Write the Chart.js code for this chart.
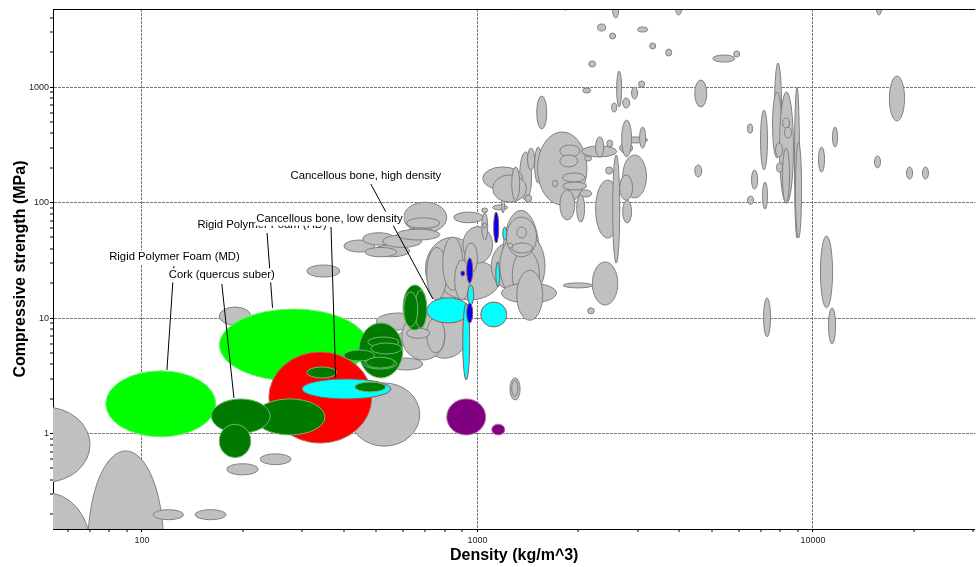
<!DOCTYPE html>
<html>
<head>
<meta charset="utf-8">
<script src="https://cdn.jsdelivr.net/npm/chart.js@4.4.0/dist/chart.umd.min.js"></script>
<style>
  html, body { margin: 0; padding: 0; background: #fff; }
  #wrap { width: 976px; height: 567px; }
</style>
</head>
<body>
<div id="wrap"><canvas id="ashby" width="976" height="567"></canvas></div>
<script>
// each material: [density low, density high, strength low, strength high]
// density in kg/m^3, compressive strength in MPa
var greyRanges = [
  [38, 70, 0.38, 1.7], [38, 70, 0.039, 0.31], [69, 116, 0.017, 0.71],
  [108, 133, 0.18, 0.22], [144, 178, 0.18, 0.22], [179, 222, 0.44, 0.55], [225, 278, 0.54, 0.67],
  [170, 211, 8.7, 12.5], [414, 673, 0.78, 2.75], [310, 389, 22.7, 28.9],
  [700, 1010, 14.4, 50], [770, 1165, 14.4, 32], [905, 1110, 30, 62], [1100, 1400, 18, 45],
  [603, 810, 55, 101], [615, 772, 60, 74], [620, 736, 53.6, 60.4], [850, 1040, 67, 83],
  [400, 494, 37.4, 47.5], [455, 567, 43, 55], [488, 628, 34, 43], [522, 682, 41, 52.5],
  [575, 772, 47.5, 59], [462, 575, 34, 41],
  [706, 810, 14.4, 41], [788, 904, 17.5, 50.5], [916, 1000, 24.6, 44.8], [855, 948, 14.4, 32],
  [1030, 1073, 47.5, 81.5], [1030, 1073, 82, 90],
  [1190, 1530, 14.4, 86], [1165, 1590, 14.4, 55.7], [1270, 1530, 14.4, 39],
  [1180, 1720, 13.5, 20.2], [1310, 1565, 9.6, 26], [2200, 2620, 13, 30.7],
  [1800, 2200, 18.3, 20.2], [2130, 2230, 10.9, 12.3],
  [1250, 1340, 1.96, 3.04], [1265, 1320, 2.1, 2.9],
  [673, 948, 4.5, 14.4], [500, 673, 7.9, 11.1], [575, 706, 5.6, 7.9], [595, 800, 4.35, 11.1],
  [706, 799, 5, 10.2], [548, 687, 3.56, 4.52], [615, 721, 6.7, 8.2],
  [1220, 1500, 34, 75], [1310, 1400, 49.5, 61.6], [1265, 1460, 36.7, 44.8], [1230, 1275, 40.5, 44.8],
  [1110, 1230, 86.5, 95.5], [1180, 1205, 81.5, 124], [1037, 1065, 60.4, 66.7],
  [1336, 1450, 105, 275], [1410, 1480, 192, 297], [1480, 1555, 148, 303], [1510, 2120, 95.5, 410],
  [1037, 1365, 129, 204], [1110, 1400, 101, 174], [1265, 1336, 105, 204], [1385, 1450, 101, 117],
  [1760, 2020, 249, 316], [1760, 1990, 204, 259], [1795, 2090, 151, 181], [1795, 2117, 129, 151],
  [1676, 1734, 137, 157], [2017, 2190, 112, 129], [1976, 2087, 68, 117], [1760, 1950, 71, 129],
  [2045, 2600, 249, 310], [2250, 2380, 249, 371], [2430, 2530, 303, 349], [2087, 2190, 230, 254],
  [2410, 2530, 177, 204], [2250, 2655, 49.5, 157], [2530, 2655, 30, 259],
  [2655, 2900, 269, 329], [2710, 3216, 329, 371], [2690, 2880, 249, 520], [3043, 3172, 297, 452],
  [2710, 3190, 110, 259], [2655, 2900, 105, 174], [2710, 2880, 66.7, 105],
  [2600, 2690, 674, 1380], [2512, 2600, 610, 730], [2710, 2845, 661, 806],
  [2880, 3000, 790, 1004], [3022, 3150, 1004, 1132], [1502, 1609, 435, 839],
  [2280, 2410, 3067, 3524], [2477, 2582, 2615, 2946], [3002, 3216, 3006, 3320],
  [3261, 3398, 2141, 2414], [3640, 3793, 1862, 2141], [2146, 2250, 1496, 1686], [2060, 2175, 891, 984],
  [1795, 1865, 4660, 5690], [2530, 2636, 3975, 5360], [3900, 4060, 4220, 5250], [15470, 16010, 4220, 5400],
  [5030, 5850, 1650, 1900], [5806, 6050, 1826, 2058], [4444, 4826, 674, 1154],
  [7683, 8060, 269, 1620], [7578, 8060, 244, 909], [7950, 8750, 99, 909],
  [8810, 9120, 49.5, 1004], [8870, 9250, 49.5, 335],
  [6980, 7320, 192, 635], [6380, 6610, 401, 480], [4444, 4663, 167, 212], [6560, 6840, 131, 192],
  [7077, 7322, 88, 151], [6383, 6653, 97, 114], [8118, 8515, 443, 541], [8225, 8630, 363, 452],
  [7737, 8118, 249, 329], [7790, 8118, 184, 221], [8118, 8515, 99, 297],
  [10390, 10830, 184, 303], [16900, 18750, 510, 1250], [11440, 11840, 303, 452],
  [15260, 15900, 200, 254], [19010, 19820, 160, 204], [21210, 22100, 160, 204],
  [10530, 11440, 12.3, 51.5], [7126, 7475, 6.9, 15], [11130, 11680, 6, 12.3]
];
var lightGreenRanges = [[170, 471, 2.86, 12], [78, 166, 0.94, 3.5]];
var redRanges = [[239, 484, 0.83, 5.1]];
var darkGreenRanges = [
  [217, 351, 0.975, 2.0], [161, 241, 1.01, 2.0], [170, 211, 0.62, 1.21], [310, 381, 3.04, 3.78],
  [443, 599, 3.04, 9.1], [400, 494, 4.26, 5.31],
  [471, 583, 5.63, 6.87], [481, 595, 4.9, 6.1], [458, 575, 3.63, 4.52], [465, 567, 3.7, 4.6],
  [600, 706, 7.9, 19.4], [650, 706, 8.2, 17.5], [603, 664, 8.4, 16.9]
];
var cyanRanges = [
  [300, 552, 2.0, 2.98], [706, 948, 9.1, 15], [1023, 1223, 8.4, 13.8], [904, 948, 2.92, 13.5],
  [935, 975, 13, 19.4], [1134, 1165, 18.6, 30.7], [1190, 1223, 47.5, 61.6]
];
var darkGreenTopRanges = [[431, 533, 2.30, 2.80]];
var blueRanges = [[1118, 1157, 44.8, 83], [929, 968, 20.2, 33.2], [892, 916, 23.2, 25.6], [929, 968, 9.1, 13.5]];
var purpleRanges = [[810, 1058, 0.975, 2.0], [1103, 1206, 0.975, 1.21]];

// labelled materials: text position and leader line (density, strength)
var labelNames = ['Rigid Polymer Foam (MD)', 'Cork (quercus suber)', 'Rigid Polymer Foam (HD)',
  'Cancellous bone, low density', 'Cancellous bone, high density'];
var labelAt = [[125, 33.7], [173, 23.5], [228, 64.1], [362, 72.7], [465, 170]];
var leaderFrom = [[124.5, 28.3], [173, 19.8], [236, 54.7], [366, 61.6], [481, 145]];
var leaderTo = [[118.7, 3.56], [188, 2.04], [245, 12.3], [378, 3.04], [736, 14.7]];

var xTickValues = [60, 70, 80, 90, 100, 200, 300, 400, 500, 600, 700, 800, 900,
  1000, 2000, 3000, 4000, 5000, 6000, 7000, 8000, 9000, 10000, 20000, 30000];
var yTickValues = [0.2, 0.3, 0.4, 0.5, 0.6, 0.7, 0.8, 0.9, 1, 2, 3, 4, 5, 6, 7, 8, 9,
  10, 20, 30, 40, 50, 60, 70, 80, 90, 100, 200, 300, 400, 500, 600, 700, 800, 900,
  1000, 2000, 3000, 4000];
var xLabelled = [100, 1000, 10000];
var yLabelled = [1, 10, 100, 1000];

function toPoints(list) {
  return list.map(function (r) {
    return { x: Math.sqrt(r[0] * r[1]), y: Math.sqrt(r[2] * r[3]), range: r };
  });
}

function group(list, fill, stroke) {
  return { data: toPoints(list), backgroundColor: fill, borderColor: stroke, pointRadius: 0 };
}

// draws every material as an ellipse spanning its density / strength range
var rangeEllipses = {
  id: 'rangeEllipses',
  afterDatasetsDraw: function (chart) {
    var ctx = chart.ctx, xs = chart.scales.x, ys = chart.scales.y, a = chart.chartArea;
    ctx.save();
    ctx.beginPath();
    ctx.rect(a.left, a.top, a.right - a.left, a.bottom - a.top);
    ctx.clip();
    chart.data.datasets.forEach(function (ds) {
      ds.data.forEach(function (p) {
        var x1 = xs.getPixelForValue(p.range[0]), x2 = xs.getPixelForValue(p.range[1]);
        var y1 = ys.getPixelForValue(p.range[2]), y2 = ys.getPixelForValue(p.range[3]);
        ctx.beginPath();
        ctx.ellipse((x1 + x2) / 2, (y1 + y2) / 2, Math.abs(x2 - x1) / 2, Math.abs(y1 - y2) / 2, 0, 0, 2 * Math.PI);
        ctx.fillStyle = ds.backgroundColor;
        ctx.fill();
        ctx.lineWidth = 1;
        ctx.strokeStyle = ds.borderColor;
        ctx.stroke();
      });
    });
    ctx.restore();
  }
};

// leader lines, boxed labels and the top frame line
var materialLabels = {
  id: 'materialLabels',
  afterDraw: function (chart) {
    var ctx = chart.ctx, xs = chart.scales.x, ys = chart.scales.y, a = chart.chartArea;
    ctx.save();
    ctx.strokeStyle = '#000';
    ctx.lineWidth = 1;
    ctx.beginPath();
    ctx.moveTo(a.left, a.top + 0.5);
    ctx.lineTo(a.right, a.top + 0.5);
    ctx.stroke();
    for (var i = 0; i < labelNames.length; i++) {
      ctx.beginPath();
      ctx.moveTo(xs.getPixelForValue(leaderFrom[i][0]), ys.getPixelForValue(leaderFrom[i][1]));
      ctx.lineTo(xs.getPixelForValue(leaderTo[i][0]), ys.getPixelForValue(leaderTo[i][1]));
      ctx.stroke();
    }
    ctx.font = '11.3px Arial, "Liberation Sans", sans-serif';
    ctx.textAlign = 'center';
    ctx.textBaseline = 'middle';
    for (var j = 0; j < labelNames.length; j++) {
      var cx = xs.getPixelForValue(labelAt[j][0]), cy = ys.getPixelForValue(labelAt[j][1]);
      var w = ctx.measureText(labelNames[j]).width;
      ctx.fillStyle = '#fff';
      ctx.fillRect(cx - w / 2 - 1, cy - 7, w + 2, 14);
      ctx.fillStyle = '#000';
      ctx.fillText(labelNames[j], cx, cy);
    }
    ctx.restore();
  }
};

var tickFont = { family: 'Arial, "Liberation Sans", sans-serif', size: 9 };
var titleFont = { family: 'Arial, "Liberation Sans", sans-serif', size: 16, weight: 'bold' };

function axis(min, max, values, labelled, title, titlePadding) {
  return {
    type: 'logarithmic',
    min: min,
    max: max,
    afterBuildTicks: function (scale) {
      scale.ticks = values.map(function (v) { return { value: v }; });
    },
    ticks: {
      autoSkip: false,
      maxRotation: 0,
      padding: 1,
      font: tickFont,
      color: '#222',
      callback: function (v) { return labelled.indexOf(v) >= 0 ? String(v) : ''; }
    },
    grid: {
      color: function (c) { return c.tick && labelled.indexOf(c.tick.value) >= 0 ? '#7a7a7a' : 'rgba(0,0,0,0)'; },
      lineWidth: function (c) { return c.tick && labelled.indexOf(c.tick.value) >= 0 ? 1 : 0; },
      tickColor: '#000',
      tickWidth: 1,
      tickLength: 3
    },
    border: { display: true, color: '#000', width: 1, dash: [3, 1] },
    title: { display: true, text: title, font: titleFont, color: '#000', padding: titlePadding }
  };
}

var xAxis = axis(54.3, 30500, xTickValues, xLabelled, 'Density (kg/m^3)', { top: 0, bottom: 2 });
xAxis.ticks.padding = 3;
xAxis.afterFit = function (scale) { scale.height = 38; };
var yAxis = axis(0.1496, 4754, yTickValues, yLabelled, 'Compressive strength (MPa)', { top: 11, bottom: 0 });
yAxis.afterFit = function (scale) { scale.width = 53; };

new Chart(document.getElementById('ashby'), {
  type: 'scatter',
  data: {
    datasets: [
      group(greyRanges, '#c0c0c0', '#808080'),
      group(lightGreenRanges, '#00ff00', '#70f070'),
      group(redRanges, '#ff0000', '#c06060'),
      group(darkGreenRanges, '#007a00', '#70b870'),
      group(cyanRanges, '#00ffff', '#a05050'),
      group(darkGreenTopRanges, '#007a00', '#70b870'),
      group(blueRanges, '#0000ff', '#a05050'),
      group(purpleRanges, '#800080', '#b070b0')
    ]
  },
  options: {
    responsive: false,
    animation: false,
    events: [],
    layout: { padding: { top: 9, right: 0, bottom: 0, left: 0 } },
    plugins: { legend: { display: false }, tooltip: { enabled: false } },
    scales: { x: xAxis, y: yAxis }
  },
  plugins: [rangeEllipses, materialLabels]
});
</script>
</body>
</html>
